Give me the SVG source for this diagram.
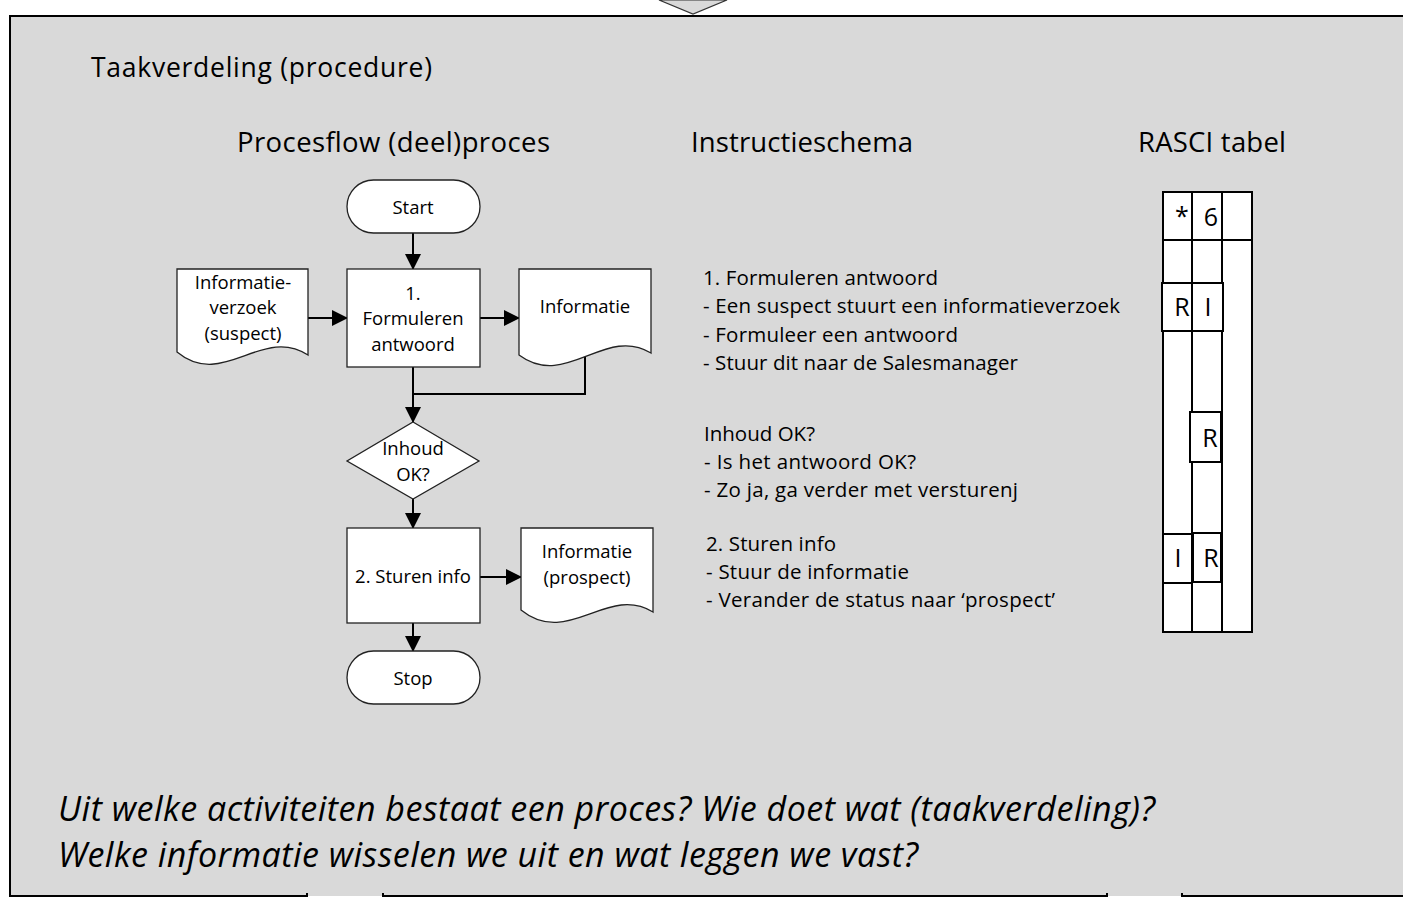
<svg xmlns="http://www.w3.org/2000/svg" width="1403" height="898" viewBox="0 0 1403 898">
<style>
text{font-family:"Open Sans","Liberation Sans",sans-serif;fill:#000}
.fc{font-size:18.5px;text-anchor:middle}
.ins{font-size:20.5px}
.hd{font-size:27.5px}
.shape{fill:#fff;stroke:#222;stroke-width:1.3}
.conn{fill:none;stroke:#000;stroke-width:2}
.tbl{fill:#fff;stroke:#000;stroke-width:2}
.rl{font-size:25px;text-anchor:middle}
.frame{stroke:#000;stroke-width:2;fill:none}
.q{font-size:34px;font-style:italic}
</style>
<defs>
<marker id="ah" markerUnits="userSpaceOnUse" markerWidth="16" markerHeight="16" refX="15" refY="8" orient="auto">
<path d="M0,0 L16,8 L0,16 Z" fill="#000"/>
</marker>
</defs>
<rect x="0" y="0" width="1403" height="898" fill="#fff"/>
<g id="background">
<rect x="10" y="16" width="1393" height="880" fill="#d9d9d9"/>
<path d="M659,0 L693,14 L727,0 Z" fill="#d9d9d9" stroke="#333" stroke-width="1.2"/>
<path class="frame" d="M1403,16 H10 V896 H307 V893"/>
<path class="frame" d="M383,893 V896 H1107 V893"/>
<path class="frame" d="M1182,893 V896 H1403"/>
</g>
<g id="titles">
<text x="91" y="77" font-size="26.5" textLength="341">Taakverdeling (procedure)</text>
<text class="hd" x="237" y="152" textLength="313">Procesflow (deel)proces</text>
<text class="hd" x="691" y="152" textLength="222">Instructieschema</text>
<text class="hd" x="1138" y="152" textLength="148">RASCI tabel</text>
</g>
<g id="connectors">
<line class="conn" x1="413" y1="233" x2="413" y2="269" marker-end="url(#ah)"/>
<line class="conn" x1="308" y1="318" x2="347" y2="318" marker-end="url(#ah)"/>
<line class="conn" x1="480" y1="318" x2="519" y2="318" marker-end="url(#ah)"/>
<polyline class="conn" points="585,356 585,394 413,394"/>
<line class="conn" x1="413" y1="367" x2="413" y2="422" marker-end="url(#ah)"/>
<line class="conn" x1="413" y1="499" x2="413" y2="528" marker-end="url(#ah)"/>
<line class="conn" x1="480" y1="577" x2="521" y2="577" marker-end="url(#ah)"/>
<line class="conn" x1="413" y1="623" x2="413" y2="651" marker-end="url(#ah)"/>
</g>
<g id="start">
<rect class="shape" x="347" y="180" width="133" height="53" rx="26.5"/>
<text class="fc" x="413" y="214">Start</text>
</g>
<g id="doc-verzoek">
<path class="shape" d="M177,269 H308 V355 C262,325 223,390 177,352 Z"/>
<text class="fc" x="243" y="289">Informatie-</text>
<text class="fc" x="243" y="314">verzoek</text>
<text class="fc" x="243" y="340">(suspect)</text>
</g>
<g id="step1">
<rect class="shape" x="347" y="269" width="133" height="98"/>
<text class="fc" x="413" y="300">1.</text>
<text class="fc" x="413" y="325">Formuleren</text>
<text class="fc" x="413" y="351">antwoord</text>
</g>
<g id="doc-informatie">
<path class="shape" d="M519,269 H651 V353 C605,325 566,390 519,355 Z"/>
<text class="fc" x="585" y="313">Informatie</text>
</g>
<g id="decision">
<path class="shape" d="M413,422 L479,461 L413,499 L347,461 Z"/>
<text class="fc" x="413" y="455">Inhoud</text>
<text class="fc" x="413" y="481">OK?</text>
</g>
<g id="step2">
<rect class="shape" x="347" y="528" width="133" height="95"/>
<text class="fc" x="413" y="583">2. Sturen info</text>
</g>
<g id="doc-prospect">
<path class="shape" d="M521,528 H653 V612 C607,584 568,648 521,610 Z"/>
<text class="fc" x="587" y="558">Informatie</text>
<text class="fc" x="587" y="584">(prospect)</text>
</g>
<g id="stop">
<rect class="shape" x="347" y="651" width="133" height="53" rx="26.5"/>
<text class="fc" x="413" y="685">Stop</text>
</g>
<g id="instructions">
<text class="ins" x="703" y="285" textLength="235">1. Formuleren antwoord</text>
<text class="ins" x="703" y="313" textLength="417">- Een suspect stuurt een informatieverzoek</text>
<text class="ins" x="703" y="342" textLength="255">- Formuleer een antwoord</text>
<text class="ins" x="703" y="370" textLength="315">- Stuur dit naar de Salesmanager</text>
<text class="ins" x="704" y="441" textLength="111">Inhoud OK?</text>
<text class="ins" x="704" y="469" textLength="212">- Is het antwoord OK?</text>
<text class="ins" x="704" y="497" textLength="314">- Zo ja, ga verder met versturenj</text>
<text class="ins" x="706" y="551" textLength="130">2. Sturen info</text>
<text class="ins" x="706" y="579" textLength="203">- Stuur de informatie</text>
<text class="ins" x="706" y="607" textLength="349">- Verander de status naar ‘prospect’</text>
</g>
<g id="rasci">
<rect class="tbl" x="1163" y="192" width="89" height="440"/>
<line class="tbl" x1="1192" y1="192" x2="1192" y2="632"/>
<line class="tbl" x1="1222" y1="192" x2="1222" y2="632"/>
<line class="tbl" x1="1163" y1="240" x2="1252" y2="240"/>
<text class="rl" x="1182" y="225">*</text>
<text class="rl" x="1211" y="226">6</text>
<rect class="tbl" x="1162" y="283" width="30" height="48"/>
<rect class="tbl" x="1192" y="283" width="31" height="48"/>
<text class="rl" x="1182" y="316">R</text>
<text class="rl" x="1208" y="316">I</text>
<rect class="tbl" x="1190" y="412" width="31" height="50"/>
<text class="rl" x="1210" y="447">R</text>
<rect class="tbl" x="1163" y="534" width="29" height="49"/>
<rect class="tbl" x="1193" y="533" width="28" height="49"/>
<text class="rl" x="1178" y="567">I</text>
<text class="rl" x="1211" y="567">R</text>
</g>
<g id="question">
<text class="q" x="58" y="821" textLength="1097">Uit welke activiteiten bestaat een proces? Wie doet wat (taakverdeling)?</text>
<text class="q" x="58" y="867" textLength="860">Welke informatie wisselen we uit en wat leggen we vast?</text>
</g>
</svg>
